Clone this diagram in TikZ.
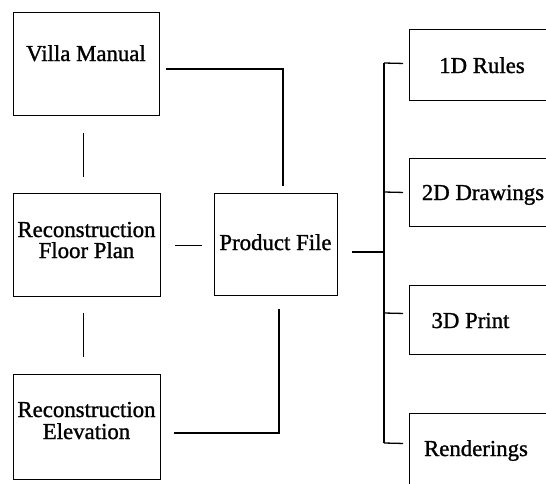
\documentclass[tikz,border=0pt]{standalone}
\usepackage{fontspec}
\setmainfont{Liberation Serif}
\newfontfamily\lblfont{Liberation Serif}[FakeBold=1.2]
\usetikzlibrary{calc}
\tikzset{
  box/.style={draw=black, line width=0.9pt, rectangle, inner sep=0pt},
  txt/.style={font=\lblfont\fontsize{22.8}{21.5}\selectfont, inner sep=0pt, anchor=base, align=center},
  conn/.style={draw=black, line width=1.3pt},
}
\begin{document}
\begin{tikzpicture}[x=1pt, y=-1pt]
  \useasboundingbox (0,0) rectangle (546,483);
  \clip (0,0) rectangle (546,483);

  % left column
  \node[box, minimum width=146pt, minimum height=103pt] (villa) at (86,63.5) {};
  \node[txt] (villaT) at (86,61) {Villa Manual};
  \node[box, minimum width=147pt, minimum height=103pt] (floor) at (86.5,244.5) {};
  \node[txt] (floorT1) at (86.5,237) {Reconstruction};
  \node[txt] (floorT2) at (86.5,258) {Floor Plan};
  \node[box, minimum width=147pt, minimum height=105pt] (elev) at (86.5,426.5) {};
  \node[txt] (elevT1) at (86.5,417) {Reconstruction};
  \node[txt] (elevT2) at (86.5,439) {Elevation};

  % hub
  \node[box, minimum width=123pt, minimum height=102pt] (prod) at (275.5,244) {};
  \node[txt] (prodT) at (275.5,250) {Product File};

  % outputs (boxes run past the right edge)
  \node[box, anchor=north west, minimum width=150pt, minimum height=71pt] (r1) at (409,29) {};
  \node[txt] (r1T) at (482,73) {1D Rules};
  \node[box, anchor=north west, minimum width=150pt, minimum height=68pt] (r2) at (409,158) {};
  \node[txt] (r2T) at (483,200) {2D Drawings};
  \node[box, anchor=north west, minimum width=150pt, minimum height=69pt] (r3) at (409,285) {};
  \node[txt] (r3T) at (470.5,328) {3D Print};
  \node[box, anchor=north west, minimum width=150pt, minimum height=80pt] (r4) at (409,413) {};
  \node[txt] (r4T) at (476,456) {Renderings};

  % connectors on the left
  \draw[conn] ($(villa.east)+(7,5.5)$) -| ($(prod.north)+(7.5,-7)$);
  \draw[line width=1pt] ($(villa.south)+(-3,18)$) -- ($(floor.north)+(-3.5,-16)$);
  \draw[line width=1pt] ($(floor.south)+(-3.5,17)$) -- ($(elev.north)+(-3.5,-17)$);
  \draw[line width=1pt] ($(floor.east)+(15,0.5)$) -- ($(prod.west)+(-12,1)$);
  \draw[conn] ($(prod.south)+(3.5,14)$) |- ($(elev.east)+(14,6.5)$);

  % branch to the outputs
  \coordinate (bus) at (384,252);
  \draw[conn] ($(prod.east)+(15,8)$) -- (bus);
  \draw[conn] (384,63) coordinate (b1) -- (384,443) coordinate (b4);
  \draw[conn] (b1) -- ($(r1.west)+(-6,-1.5)$);
  \draw[conn] (384,192) coordinate (b2) -- ($(r2.west)+(-6,0)$);
  \draw[conn] (384,313) coordinate (b3) -- ($(r3.west)+(-6,-6.5)$);
  \draw[conn] (b4) -- ($(r4.west)+(-6,-10)$);
\end{tikzpicture}
\end{document}
